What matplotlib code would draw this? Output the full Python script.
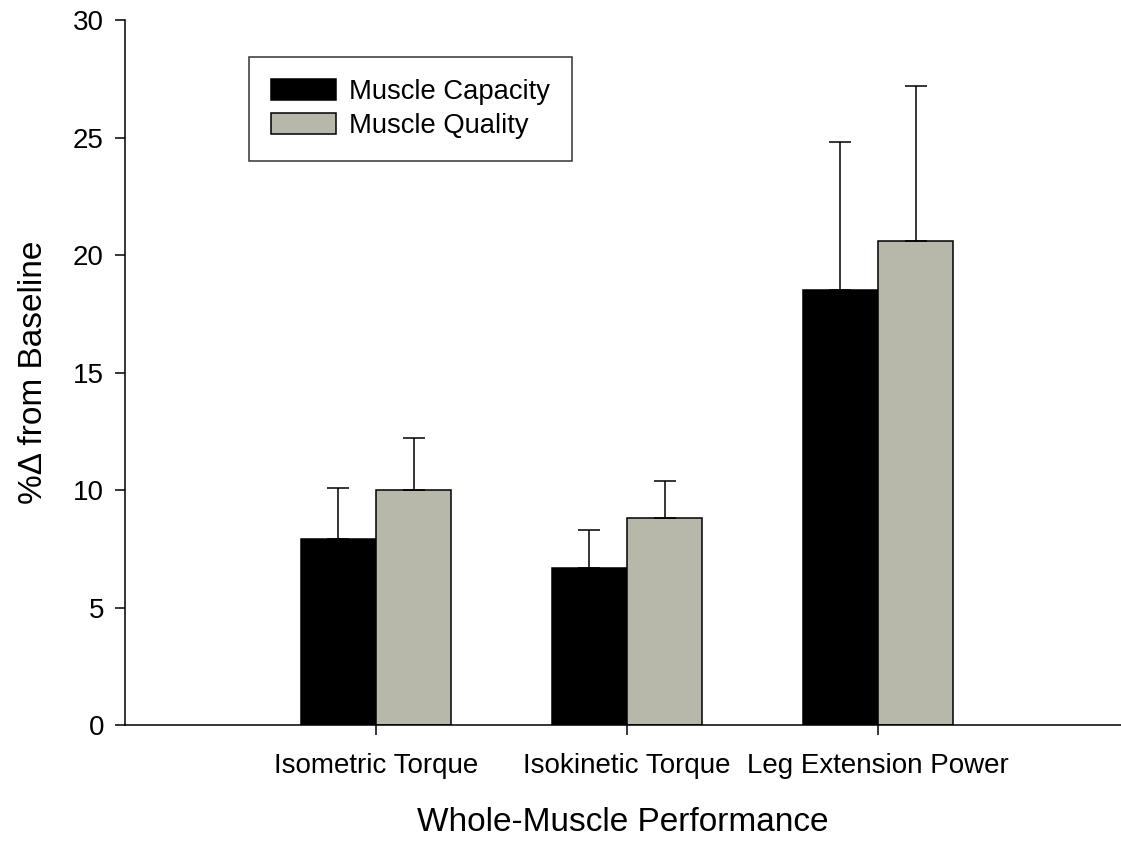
import numpy as np
import matplotlib
matplotlib.use('Agg')
import matplotlib.pyplot as plt

plt.rcParams['font.family'] = ['Liberation Sans', 'DejaVu Sans']

#group labels and values for the two measures
categories = ['Isometric Torque', 'Isokinetic Torque', 'Leg Extension Power']
capacity = [7.9, 6.7, 18.5]
capacity_err = [2.2, 1.6, 6.3]
quality = [10.0, 8.8, 20.6]
quality_err = [2.2, 1.6, 6.6]

x = np.arange(1, len(categories) + 1)
width = 0.3

fig = plt.figure(figsize=(11.21, 8.42), dpi=100)
ax = fig.add_axes([0.1115, 0.139, 0.8885, 0.837])

#only the upper half of each error bar is drawn
err_style = dict(ecolor='black', elinewidth=1.1, capsize=8, capthick=1.1)
ax.bar(x - width / 2, capacity, width, color='black', edgecolor='black',
       linewidth=1.1, label='Muscle Capacity',
       yerr=[np.zeros(3), capacity_err], error_kw=err_style)
ax.bar(x + width / 2, quality, width, color='#b7b7aa', edgecolor='black',
       linewidth=1.1, label='Muscle Quality',
       yerr=[np.zeros(3), quality_err], error_kw=err_style)

ax.set_xlim(0, 3.968)
ax.set_ylim(0, 30)
ax.set_yticks([0, 5, 10, 15, 20, 25, 30])
ax.set_xticks(x)
ax.set_xticklabels(categories)

for side in ['top', 'right']:
    ax.spines[side].set_visible(False)
for side in ['left', 'bottom']:
    ax.spines[side].set_linewidth(1.1)
ax.tick_params(axis='both', direction='out', length=7.2, width=1.1)
ax.tick_params(axis='y', labelsize=20, pad=8)
ax.tick_params(axis='x', labelsize=20, pad=13)

ax.set_xlabel('Whole-Muscle Performance', fontsize=24, labelpad=20)
ax.set_ylabel('%\u0394 from Baseline', fontsize=24, labelpad=17)

leg = ax.legend(loc='upper left', bbox_to_anchor=(0.2221, 0.9323),
                bbox_transform=fig.transFigure, fontsize=19.7, frameon=True,
                fancybox=False, edgecolor='black', borderpad=0.8,
                handlelength=2.37, handleheight=0.79, handletextpad=0.5,
                labelspacing=0.3, borderaxespad=0)
leg.get_frame().set_linewidth(1.1)

fig.savefig('out.png', dpi=100)
